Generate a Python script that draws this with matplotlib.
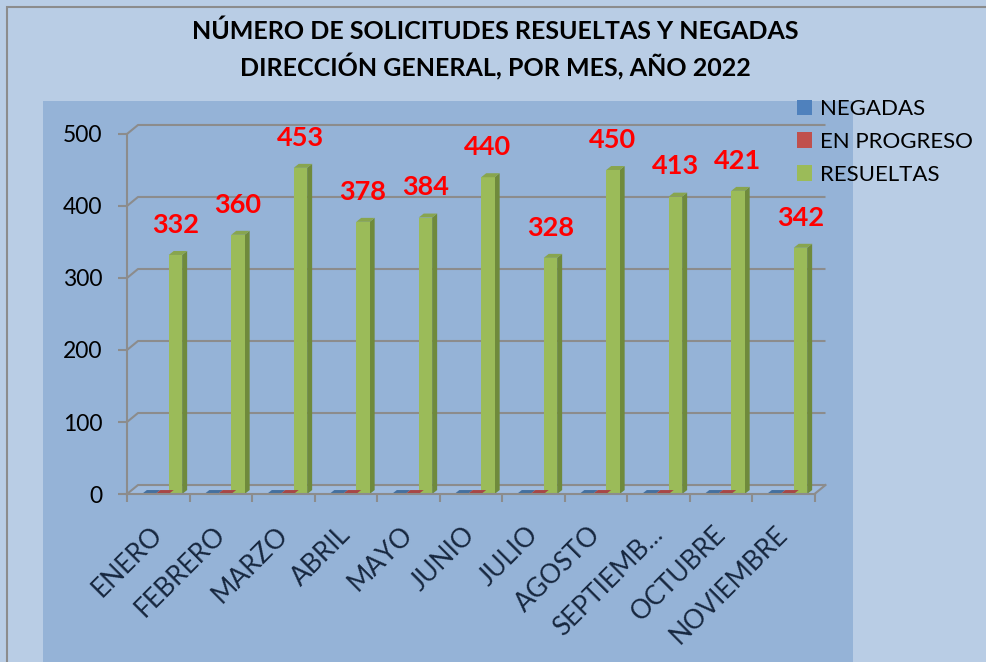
import numpy as np
import matplotlib
matplotlib.use("Agg")
import matplotlib.pyplot as plt
from matplotlib.patches import Polygon, Rectangle

plt.rcParams['font.family'] = ['Lato', 'DejaVu Sans']

meses = ["ENERO", "FEBRERO", "MARZO", "ABRIL", "MAYO", "JUNIO", "JULIO",
         "AGOSTO", "SEPTIEMB...", "OCTUBRE", "NOVIEMBRE"]
negadas = [0, 0, 0, 0, 0, 0, 0, 0, 0, 0, 0]
en_progreso = [0, 0, 0, 0, 0, 0, 0, 0, 0, 0, 0]
resueltas = [332, 360, 453, 378, 384, 440, 328, 450, 413, 421, 342]
yticks = [0, 100, 200, 300, 400, 500]

W, H = 987, 662
fig = plt.figure(figsize=(W / 100, H / 100), dpi=100, facecolor="#b9cde5")

# plot area (pixel box 43..853 x 101..662)
ax = fig.add_axes([43 / W, 0, 810 / W, 561 / H], facecolor="#95b3d7")
n = len(meses)
ax.set_xlim(-1.344, 11.616)
ax.set_ylim(-233.3, 545.8)

grid_c = "#8c8c8c"
dx, dy = 0.176, 12.5       # depth of the 3d box
bw = 0.215                 # bar width
bdx, bdy = 0.08, 5.5       # depth of each bar

# back wall gridlines + left wall slants
for v in yticks:
    ax.plot([0, dx, n + dx], [v, v + dy, v + dy], color=grid_c, lw=1.5, zorder=1,
            solid_capstyle="butt")
ax.plot([n, n + dx], [0, dy], color=grid_c, lw=1.5, zorder=1)
ax.add_patch(Polygon([(0, 0), (n, 0), (n + dx, dy), (dx, dy)], closed=True,
                     facecolor="#9fbbdd", edgecolor="none", zorder=0.5))

series = [(negadas, "NEGADAS", "#4f81bd", "#3a6496", "#44709f"),
          (en_progreso, "EN PROGRESO", "#c0504d", "#8e3b39", "#a84745"),
          (resueltas, "RESUELTAS", "#9bbb59", "#6f8a3c", "#88a54e")]
x = np.arange(n)
centers = [0.345, 0.56, 0.775]
for (vals, lab, c_front, c_side, c_top), off in zip(series, centers):
    xs = x + off
    ax.bar(xs, vals, width=bw, color=c_front, label=lab, zorder=3)
    for xc, v in zip(xs, vals):
        x0, x1 = xc - bw / 2, xc + bw / 2
        ax.add_patch(Polygon([(x1, 0), (x1 + bdx, bdy), (x1 + bdx, v + bdy), (x1, v)],
                             closed=True, facecolor=c_side, edgecolor="none", zorder=2.9))
        ax.add_patch(Polygon([(x0, v), (x1, v), (x1 + bdx, v + bdy), (x0 + bdx, v + bdy)],
                             closed=True, facecolor=c_top, edgecolor="none", zorder=3.1))

for xc, v in zip(x + centers[2], resueltas):
    ax.text(xc, v + 42, str(v), color="#ff0000", fontsize=19.5, fontweight="bold",
            ha="center", va="center", zorder=5)

# axes
for s in ["top", "right"]:
    ax.spines[s].set_visible(False)
ax.spines["left"].set_position(("data", 0))
ax.spines["left"].set_bounds(0, 500)
ax.spines["bottom"].set_position(("data", 0))
ax.spines["bottom"].set_bounds(0, n)
for s in ["left", "bottom"]:
    ax.spines[s].set_color(grid_c)
    ax.spines[s].set_linewidth(1.5)
    ax.spines[s].set_zorder(4)

ax.set_yticks(yticks)
ax.set_yticklabels([str(t) for t in yticks], fontsize=16.5)
ax.tick_params(axis="y", direction="out", length=6.5, width=1.5, color=grid_c, pad=11)

ax.set_xticks(np.arange(n + 1))
ax.set_xticklabels([])
ax.set_xticks(x + 0.37, minor=True)
ax.set_xticklabels(meses, minor=True, rotation=45, ha="right", va="top",
                   rotation_mode="anchor", fontsize=19, color="#17273f")
ax.tick_params(axis="x", which="major", direction="out", length=6, width=1.5, color=grid_c)
ax.tick_params(axis="x", which="minor", length=0, pad=20)

fig.text(495 / W, 1 - 50 / H,
         "NÚMERO DE SOLICITUDES RESUELTAS Y NEGADAS\nDIRECCIÓN GENERAL, POR MES, AÑO 2022",
         ha="center", va="center", fontsize=18, fontweight="bold", linespacing=1.45)

fig.legend(loc="upper left", bbox_to_anchor=(797 / W, 1 - 99 / H), frameon=False,
           fontsize=16, handlelength=0.68, handleheight=0.68, handletextpad=0.36,
           labelspacing=0.58, borderaxespad=0, borderpad=0)

fig.patches.append(Rectangle((7 / W, -0.1), 1.2, (1 - 7 / H) + 0.1, transform=fig.transFigure,
                             fill=False, edgecolor="#8c8c8c", lw=1.5))

fig.savefig("out.png", dpi=100, facecolor=fig.get_facecolor())
